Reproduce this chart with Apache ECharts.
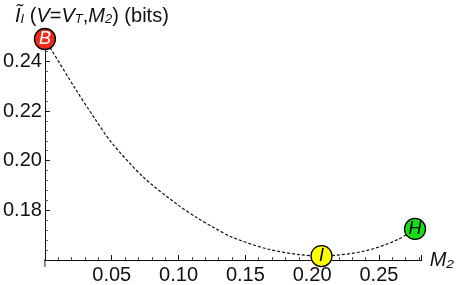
<!DOCTYPE html>
<html>
<head>
<meta charset="utf-8">
<script src="https://cdn.jsdelivr.net/npm/echarts@6/dist/echarts.min.js"></script>
<style>html,body{margin:0;padding:0;background:#fff}#c{width:457px;height:285px}</style>
</head>
<body>
<div id="c"></div>
<script>
// Curve: M2 vs information (bits)
const m2Values = [0.000, 0.022, 0.037, 0.050, 0.074, 0.099, 0.115, 0.127, 0.140, 0.166, 0.190, 0.207, 0.240, 0.264, 0.277];
const infoValues = [0.249, 0.2296, 0.2172, 0.2072, 0.1932, 0.1824, 0.1766, 0.1729, 0.1692, 0.1645, 0.1622, 0.1616, 0.1637, 0.1682, 0.1725];
// Labelled points
const pointNames = ['B', 'I', 'H'];
const pointM2 = [0.000, 0.207, 0.277];
const pointInfo = [0.249, 0.1616, 0.1725];
const pointColors = ['#ee2a1a', '#ffff00', '#1add1a'];
const pointTextColors = ['#ffffff', '#000000', '#000000'];
// Tick labels
const xTickLabels = ['0.05', '0.10', '0.15', '0.20', '0.25'];
const yTickLabels = ['0.18', '0.20', '0.22', '0.24'];

const font = '"Liberation Sans", Arial, Helvetica, sans-serif';
const chart = echarts.init(document.getElementById('c'), null, {renderer: 'canvas'});

const fmt = (labels) => (v) => {
  const s = v.toFixed(2);
  return labels.indexOf(s) >= 0 && Math.abs(v - parseFloat(s)) < 1e-6 ? s : '';
};

chart.setOption({
  animation: false,
  backgroundColor: '#ffffff',
  grid: {left: 43, right: 33, top: 39, bottom: 23},
  title: {
    left: 10, top: -1,
    text: '{it|Ĩ}{sub|I}{n| (}{it|V}{n|=}{it|V}{sub|T}{n|,}{it|M}{sub|2}{n|) (bits)}',
    textStyle: {
      rich: {
        it: {fontFamily: font, fontStyle: 'italic', fontWeight: 'normal', fontSize: 20, color: '#111', verticalAlign: 'bottom', lineHeight: 22},
        n: {fontFamily: font, fontWeight: 'normal', fontSize: 20, color: '#111', verticalAlign: 'bottom', lineHeight: 22},
        sub: {fontFamily: font, fontStyle: 'italic', fontWeight: 'normal', fontSize: 13, color: '#111', verticalAlign: 'bottom', lineHeight: 15}
      }
    }
  },
  xAxis: {
    type: 'value', min: 0, max: 0.282, interval: 0.05,
    axisLine: {show: true, lineStyle: {color: '#111', width: 1}},
    axisTick: {show: true, inside: true, length: 5, lineStyle: {color: '#111'}},
    minorTick: {show: true, splitNumber: 5, length: 3, lineStyle: {color: '#555'}},
    splitLine: {show: false},
    axisLabel: {formatter: fmt(xTickLabels), fontFamily: font, fontSize: 20, color: '#111', margin: 5, showMaxLabel: false},
    name: 'M₂', nameLocation: 'end', nameGap: 8,
    nameTextStyle: {fontFamily: font, fontStyle: 'italic', fontSize: 20, color: '#111', verticalAlign: 'middle'}
  },
  yAxis: {
    type: 'value', min: 0.16, max: 0.249, interval: 0.02,
    axisLine: {show: true, lineStyle: {color: '#111', width: 1}},
    axisTick: {show: true, inside: true, length: 5, lineStyle: {color: '#111'}},
    minorTick: {show: true, splitNumber: 5, length: 3, lineStyle: {color: '#555'}},
    splitLine: {show: false},
    axisLabel: {formatter: fmt(yTickLabels), fontFamily: font, fontSize: 20, color: '#111', margin: 3, showMaxLabel: false}
  },
  series: [
    {
      type: 'line', clip: false, silent: true, symbol: 'none',
      data: [[-0.006, 0.16], [0, 0.16]],
      lineStyle: {color: '#111', width: 1}
    },
    {
      type: 'line', clip: false, silent: true, symbol: 'none',
      data: [[0, 0.16], [0, 0.1572]],
      lineStyle: {color: '#111', width: 1}
    },
    {
      type: 'line', smooth: 0.3, symbol: 'none', clip: false,
      data: m2Values.map((x, i) => [x, infoValues[i]]),
      lineStyle: {color: '#111', width: 1.2, type: [3, 2]}
    },
    {
      type: 'scatter', symbolSize: 21, clip: false, z: 5,
      data: pointNames.map((n, i) => ({
        value: [pointM2[i], pointInfo[i]],
        name: n,
        itemStyle: {color: pointColors[i], borderColor: '#000', borderWidth: 1.3, opacity: 1},
        label: {
          show: true, position: 'inside', formatter: n,
          fontFamily: font, fontStyle: 'italic', fontSize: 18,
          color: pointTextColors[i]
        }
      }))
    }
  ]
});
</script>
</body>
</html>
